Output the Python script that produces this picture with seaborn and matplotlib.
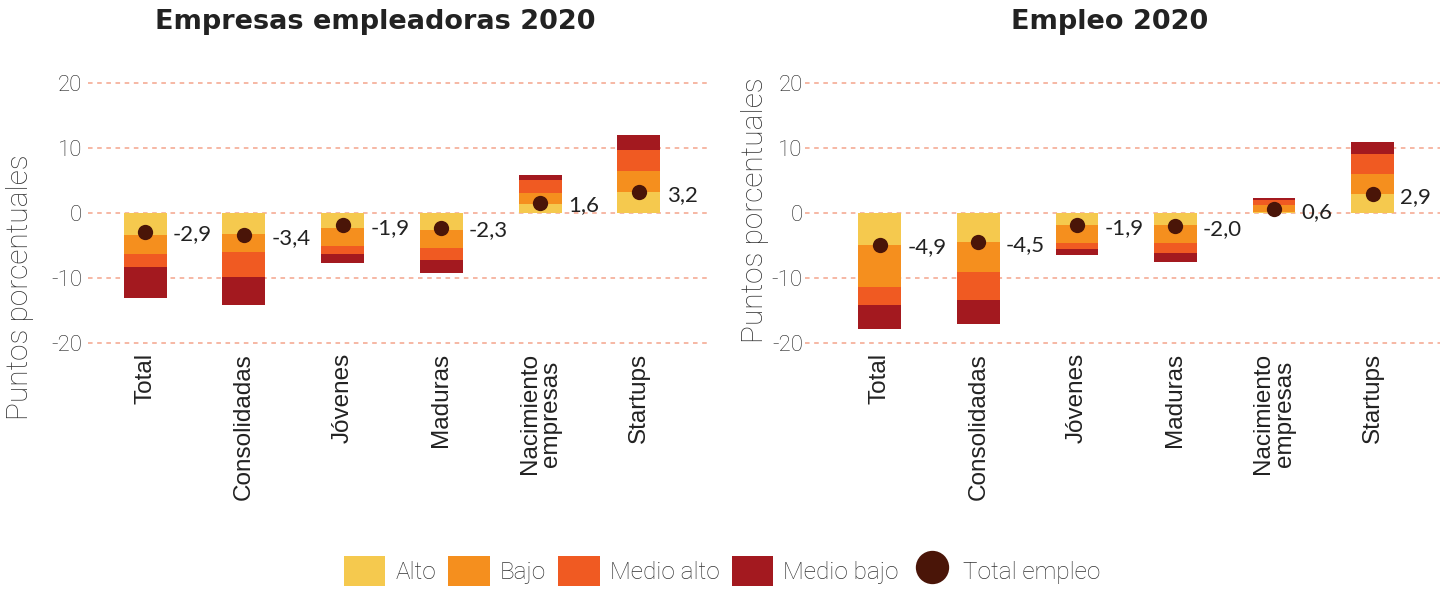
import matplotlib
matplotlib.use("Agg")
import matplotlib.pyplot as plt
import pandas as pd
import seaborn as sns
from matplotlib.patches import Patch
from matplotlib.lines import Line2D

categories = ["Total", "Consolidadas", "Jóvenes", "Maduras", "Nacimiento\nempresas", "Startups"]
series = ["Alto", "Bajo", "Medio alto", "Medio bajo"]
colours = ["#F5C94E", "#F58F1E", "#F05A22", "#A3191F"]
dot_colour = "#4A1508"

# empresas empleadoras 2020
emp_alto = [-3.4, -3.2, -2.25, -2.55, 1.45, 3.3]
emp_bajo = [-2.9, -2.8, -2.8, -2.8, 1.7, 3.2]
emp_medio_alto = [-2.05, -3.85, -1.2, -1.85, 1.85, 3.25]
emp_medio_bajo = [-4.7, -4.25, -1.5, -2.1, 0.9, 2.3]
emp_total = [-2.9, -3.4, -1.9, -2.3, 1.6, 3.2]

# empleo 2020
empleo_alto = [-4.85, -4.4, -1.8, -1.8, 0.1, 2.95]
empleo_bajo = [-6.6, -4.75, -2.75, -2.75, 1.15, 3.05]
empleo_medio_alto = [-2.75, -4.3, -1.05, -1.55, 0.75, 3.05]
empleo_medio_bajo = [-3.7, -3.7, -0.9, -1.4, 0.3, 1.85]
empleo_total = [-4.9, -4.5, -1.9, -2.0, 0.6, 2.9]

sns.set_theme(style="white")
plt.rcParams["font.family"] = ["Lato", "DejaVu Sans"]
TXT = "#222222"


def draw_panel(ax, parts, total, ypad):
    df = pd.DataFrame({"cat": categories})
    cum = [0.0] * len(categories)
    cums = []
    for p in parts:
        cum = [a + b for a, b in zip(cum, p)]
        cums.append(list(cum))
    # overlay cumulative bars, largest first
    for i in range(len(parts) - 1, -1, -1):
        df["v"] = cums[i]
        sns.barplot(data=df, x="cat", y="v", color=colours[i], saturation=1,
                    width=0.436, order=categories, ax=ax, zorder=2,
                    linewidth=0, edgecolor="none")
    df["t"] = total
    sns.stripplot(data=df, x="cat", y="t", order=categories, jitter=False,
                  color=dot_colour, size=11, linewidth=0, ax=ax, zorder=4)
    for i, t in enumerate(total):
        ax.text(i + 0.28, t - 0.4, f"{t:.1f}".replace(".", ","), va="center",
                ha="left", fontsize=16, color=TXT, zorder=5)
    ax.set_ylim(-21, 21)
    ax.set_yticks([-20, -10, 0, 10, 20])
    ax.set_yticklabels(["-20", "-10", "0", "10", "20"], fontweight="light",
                       fontsize=16, color=TXT, family="Roboto")
    ax.yaxis.grid(True, color="#F4A48C", linestyle=(0, (3, 3)), linewidth=1.1)
    ax.set_axisbelow(True)
    ax.xaxis.grid(False)
    ax.set_xlabel("")
    ax.set_ylabel("")
    ax.tick_params(axis="x", pad=2.5, length=0)
    ax.tick_params(axis="y", pad=ypad, length=0)
    ax.set_xticks(range(len(categories)))
    ax.set_xticklabels(categories, rotation=90, va="top", ha="center",
                       fontsize=17.5, color=TXT, family="Liberation Sans",
                       linespacing=0.95)
    for s in ax.spines.values():
        s.set_visible(False)


fig = plt.figure(figsize=(14.47, 5.91), dpi=100)
ax1 = fig.add_axes([88 / 1447, 0.4086, 620 / 1447, 0.462])
ax2 = fig.add_axes([805 / 1447, 0.4086, 635 / 1447, 0.462])

draw_panel(ax1, [emp_alto, emp_bajo, emp_medio_alto, emp_medio_bajo], emp_total, 4.3)
ax1.set_xlim(-0.578, 5.70)
draw_panel(ax2, [empleo_alto, empleo_bajo, empleo_medio_alto, empleo_medio_bajo], empleo_total, 1.5)
ax2.set_xlim(-0.761, 5.685)

fig.text(375.5 / 1447, 1 - 22 / 591, "Empresas empleadoras 2020", ha="center", va="center",
         fontsize=19.5, fontweight="bold", color=TXT, family="DejaVu Sans")
fig.text(1110 / 1447, 1 - 22 / 591, "Empleo 2020", ha="center", va="center",
         fontsize=19.5, fontweight="bold", color=TXT, family="DejaVu Sans")
fig.text(20 / 1447, 1 - 287 / 591, "Puntos porcentuales", rotation=90, ha="center",
         va="center", fontsize=21.5, fontweight="light", color="#333333", family="Roboto")
fig.text(755 / 1447, 1 - 210 / 591, "Puntos porcentuales", rotation=90, ha="center",
         va="center", fontsize=21.5, fontweight="light", color="#333333", family="Roboto")

handles = [Patch(facecolor=c, edgecolor="none") for c in colours]
handles.append(Line2D([], [], marker="o", linestyle="none", markersize=24,
                      markerfacecolor=dot_colour, markeredgecolor="none"))
leg = fig.legend(handles, series + ["Total empleo"], loc="center", ncol=5,
                 bbox_to_anchor=(722 / 1447, 1 - 571 / 591), frameon=False,
                 handleheight=1.57, handlelength=1.7, handletextpad=0.42,
                 columnspacing=0.5,
                 prop={"family": "Roboto", "weight": "light", "size": 17.5})
for t in leg.get_texts():
    t.set_color("#333333")

fig.savefig("out.png", dpi=100)
